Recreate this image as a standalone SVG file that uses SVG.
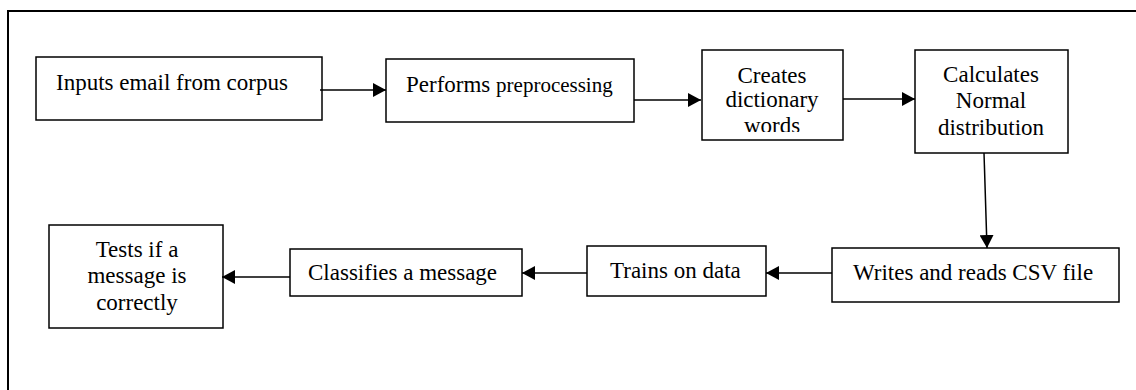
<svg xmlns="http://www.w3.org/2000/svg" width="1136" height="390" viewBox="0 0 1136 390">
  <style>
    .box { fill: #ffffff; stroke: #000000; stroke-width: 1.5; }
    .lbl { font-family: 'Liberation Serif', 'Times New Roman', Tinos, 'DejaVu Serif', serif; font-size: 23px; fill: #000000; }
    .mid { text-anchor: middle; }
    .small { font-size: 21px; }
    .edge { stroke: #000000; stroke-width: 1.5; fill: none; marker-end: url(#head); }
  </style>
  <defs>
    <marker id="head" markerUnits="userSpaceOnUse" markerWidth="14" markerHeight="14" viewBox="0 0 14 14" refX="13" refY="7" orient="auto">
      <path d="M0,0 L13,7 L0,14 Z" fill="#000000"/>
    </marker>
    <clipPath id="clip-dict">
      <rect x="702" y="50" width="141" height="82"/>
    </clipPath>
  </defs>

  <rect id="frame" x="8" y="11" width="1140" height="400" fill="none" stroke="#000000" stroke-width="2"/>

  <g id="n-inputs">
    <rect class="box" x="36" y="57" width="286" height="63"/>
    <text class="lbl" x="56" y="90" font-family="Liberation Serif, serif">Inputs email from corpus</text>
  </g>

  <g id="n-preprocess">
    <rect class="box" x="386" y="59" width="248" height="63"/>
    <text class="lbl" x="406" y="92">Performs <tspan class="small">preprocessing</tspan></text>
  </g>

  <g id="n-dictionary">
    <rect class="box" x="702" y="50" width="141" height="90"/>
    <g clip-path="url(#clip-dict)">
      <text class="lbl mid" x="772" y="83">Creates</text>
      <text class="lbl mid" x="772" y="107">dictionary</text>
      <text class="lbl mid" x="772" y="133">words</text>
    </g>
  </g>

  <g id="n-normal">
    <rect class="box" x="915" y="50" width="153" height="103"/>
    <text class="lbl mid" x="991" y="82">Calculates</text>
    <text class="lbl mid" x="991" y="108">Normal</text>
    <text class="lbl mid" x="991" y="135">distribution</text>
  </g>

  <g id="n-csv">
    <rect class="box" x="832" y="248" width="287" height="54"/>
    <text class="lbl" x="853" y="280">Writes and reads CSV file</text>
  </g>

  <g id="n-train">
    <rect class="box" x="587" y="246" width="179" height="50"/>
    <text class="lbl" x="610" y="278">Trains on data</text>
  </g>

  <g id="n-classify">
    <rect class="box" x="290" y="249" width="232" height="47"/>
    <text class="lbl" x="308" y="280">Classifies a message</text>
  </g>

  <g id="n-test">
    <rect class="box" x="49" y="225" width="174" height="103"/>
    <text class="lbl mid" x="137" y="257">Tests if a</text>
    <text class="lbl mid" x="137" y="283">message is</text>
    <text class="lbl mid" x="137" y="310">correctly</text>
  </g>

  <g id="connectors">
    <line class="edge" x1="320" y1="90" x2="386" y2="90"/>
    <line class="edge" x1="634" y1="100" x2="701" y2="100"/>
    <line class="edge" x1="843" y1="99" x2="915" y2="99"/>
    <line class="edge" x1="984" y1="153" x2="987" y2="248"/>
    <line class="edge" x1="832" y1="273" x2="766" y2="273"/>
    <line class="edge" x1="587" y1="273" x2="522" y2="273"/>
    <line class="edge" x1="290" y1="277" x2="222" y2="277"/>
  </g>
</svg>
